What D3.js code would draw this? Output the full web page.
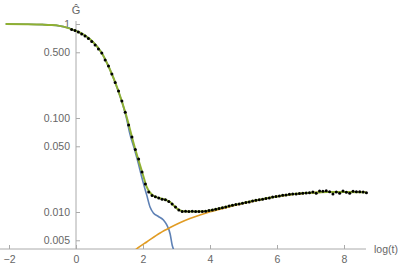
<!DOCTYPE html>
<html>
<head>
<meta charset="utf-8">
<script src="https://cdn.jsdelivr.net/npm/d3@7"></script>
<style>
  body { margin: 0; background: #fff; }
  svg { display: block; font-family: "Liberation Sans", Arial, sans-serif; }
</style>
</head>
<body>
<div class="svg-container"></div>
<script>
const widthSVG = 400;
const heightSVG = 268;

// datos medidos (log t, G)
const dotT = [-0.13, -0.03, 0.07, 0.17, 0.27, 0.37, 0.47, 0.57, 0.67, 0.77,
  0.87, 0.97, 1.07, 1.17, 1.27, 1.37, 1.47, 1.57, 1.67, 1.77,
  1.87, 1.97, 2.07, 2.17, 2.27, 2.37, 2.47, 2.57, 2.67, 2.77,
  2.87, 2.97, 3.07, 3.17, 3.27, 3.37, 3.47, 3.57, 3.67, 3.77,
  3.87, 3.97, 4.07, 4.17, 4.27, 4.37, 4.47, 4.57, 4.67, 4.77,
  4.87, 4.97, 5.07, 5.17, 5.27, 5.37, 5.47, 5.57, 5.67, 5.77,
  5.87, 5.97, 6.07, 6.17, 6.27, 6.37, 6.47, 6.57, 6.67, 6.77,
  6.87, 6.97, 7.07, 7.17, 7.27, 7.37, 7.47, 7.57, 7.67, 7.77,
  7.87, 7.97, 8.07, 8.17, 8.27, 8.37, 8.47, 8.57, 8.67];
const dotG = [0.874, 0.851, 0.822, 0.783, 0.745, 0.701, 0.652, 0.598, 0.542, 0.491,
  0.414, 0.357, 0.294, 0.239, 0.194, 0.152, 0.115, 0.0844, 0.0628, 0.0462,
  0.0366, 0.0267, 0.0199, 0.0163, 0.0150, 0.0145, 0.0141, 0.0137, 0.0135, 0.0129,
  0.0122, 0.0113, 0.0105, 0.0101, 0.0102, 0.0101, 0.0102, 0.0101, 0.0101, 0.0101,
  0.0102, 0.0104, 0.0105, 0.0107, 0.0109, 0.0111, 0.0113, 0.0116, 0.0118, 0.0120,
  0.0122, 0.0124, 0.0126, 0.0128, 0.0131, 0.0133, 0.0135, 0.0137, 0.0139, 0.0141,
  0.0144, 0.0146, 0.0148, 0.0151, 0.0152, 0.0154, 0.0155, 0.0155, 0.0157, 0.0158,
  0.0159, 0.0160, 0.0163, 0.0158, 0.0167, 0.0166, 0.0168, 0.0164, 0.0155, 0.0163,
  0.0158, 0.0167, 0.0162, 0.0158, 0.0166, 0.0164, 0.0164, 0.0163, 0.0160];

// ajuste total (verde)
const fitT = [-2.1, -1.5, -1.0, -0.75, -0.5, -0.25, 0, 0.25, 0.5, 0.75, 1.0, 1.25, 1.5, 1.75,
  2.0, 2.1, 2.2, 2.3, 2.5, 2.7, 2.8, 2.9, 3.0, 3.1, 3.3, 3.5, 3.8, 4.0, 4.5, 5.0, 5.5,
  6.0, 6.5, 7.0, 7.5, 8.0, 8.65];
const fitG = [1.0, 0.995, 0.985, 0.975, 0.955, 0.91, 0.845, 0.764, 0.648, 0.504, 0.336, 0.201, 0.1063, 0.0491,
  0.0248, 0.0189, 0.0163, 0.0150, 0.0140, 0.0134, 0.0128, 0.0119, 0.0110, 0.0104, 0.0101, 0.0101, 0.0102, 0.0104, 0.0114, 0.0125, 0.01355,
  0.0146, 0.0155, 0.0160, 0.0163, 0.0163, 0.0162];

// componente rapida (azul)
const fastT = [-2.1, -1.5, -1.0, -0.75, -0.5, -0.25, 0, 0.25, 0.5, 0.75, 1.0, 1.25, 1.5, 1.61,
  1.76, 1.86, 1.96, 2.01, 2.11, 2.21, 2.31, 2.46, 2.61, 2.71, 2.81, 2.87, 2.94, 3.0];
const fastG = [1.0, 0.995, 0.985, 0.975, 0.955, 0.91, 0.845, 0.764, 0.648, 0.504, 0.335, 0.199, 0.102, 0.0676,
  0.0446, 0.0330, 0.0237, 0.0203, 0.0152, 0.0113, 0.00976, 0.00896, 0.00822, 0.00728, 0.00583, 0.00446, 0.00375, 0.0031];

// componente lenta (naranja)
const slowT = [1.7, 1.79, 1.91, 2.11, 2.51, 2.81, 3.1, 3.4, 3.7, 4.0, 4.5, 5.0, 5.5, 6.0, 6.5, 7.0, 7.5, 8.0, 8.65];
const slowG = [0.0038, 0.00401, 0.00430, 0.00480, 0.00598, 0.00684, 0.00769, 0.00853, 0.00929,
  0.01005, 0.0112, 0.0124, 0.0135, 0.0146, 0.0155, 0.0160, 0.0163, 0.0163, 0.0162];

const xTicks = [-2, 0, 2, 4, 6, 8];
const xMinorTicks = [-1.5, -1, -0.5, 0.5, 1, 1.5, 2.5, 3, 3.5, 4.5, 5, 5.5, 6.5, 7, 7.5, 8.5];
const yTicks = [0.005, 0.01, 0.05, 0.1, 0.5, 1];
const yTickLabels = ['0.005', '0.010', '0.050', '0.100', '0.500', '1'];
const yMinorTicks = [0.006, 0.007, 0.008, 0.009, 0.02, 0.03, 0.04, 0.06, 0.07, 0.08, 0.09,
  0.2, 0.3, 0.4, 0.6, 0.7, 0.8, 0.9];

const axisColor = '#aaa';
const textColor = '#666';

const svg = d3.select('.svg-container')
  .append('svg')
  .attr('width', widthSVG)
  .attr('height', heightSVG);

const x = d3.scaleLinear().domain([0, 8]).range([76, 344]);
const y = d3.scaleLog().domain([0.01, 1]).range([212, 24]);
const axisY = 249;
const xEnd = 366;

// clip del area de graficado
svg.append('defs').append('clipPath')
  .attr('id', 'plot-clip')
  .append('rect')
  .attr('x', 0).attr('y', 0)
  .attr('width', widthSVG).attr('height', axisY);

const zip = (ts, gs) => ts.map((t, i) => ({ t: t, g: gs[i] }));

const line = d3.line()
  .x(d => x(d.t))
  .y(d => y(d.g))
  .curve(d3.curveMonotoneX);

// ejes
const xAxisG = svg.append('g').attr('transform', `translate(0,${axisY})`);
xAxisG.call(d3.axisBottom(x).tickValues(xMinorTicks).tickSize(-2.5).tickFormat(''));
xAxisG.call(d3.axisBottom(x).tickValues(xTicks).tickSize(-4).tickPadding(7)
  .tickFormat(d => d < 0 ? '\u22122' : d3.format('d')(d)));
xAxisG.selectAll('.domain').remove();
xAxisG.append('line')
  .attr('x1', 0).attr('x2', xEnd)
  .attr('stroke', axisColor);

const yAxisG = svg.append('g').attr('transform', `translate(${x(0)},0)`);
yAxisG.call(d3.axisLeft(y).tickValues(yMinorTicks.filter(v => y(v) < axisY)).tickSize(-2.5).tickFormat(''));
yAxisG.call(d3.axisLeft(y).tickValues(yTicks).tickSize(-4).tickPadding(6)
  .tickFormat((d, i) => yTickLabels[i]));
yAxisG.selectAll('.domain').remove();
yAxisG.append('line')
  .attr('y1', 21).attr('y2', axisY)
  .attr('stroke', axisColor);

svg.selectAll('.tick line').attr('stroke', axisColor);
svg.selectAll('.tick text')
  .attr('fill', textColor)
  .attr('font-size', '10.5px')
  .attr('font-family', '"Liberation Sans", Arial, sans-serif');

// etiquetas de ejes
svg.append('text')
  .attr('x', x(0))
  .attr('y', 14)
  .attr('text-anchor', 'middle')
  .attr('fill', textColor)
  .attr('font-size', '11px')
  .text('\u011C');

svg.append('text')
  .attr('x', 374)
  .attr('y', axisY + 4)
  .attr('fill', textColor)
  .attr('font-size', '10.5px')
  .text('log(t)');

// curvas
const plot = svg.append('g').attr('clip-path', 'url(#plot-clip)');

plot.append('path')
  .datum(zip(fastT, fastG))
  .attr('d', line)
  .attr('fill', 'none')
  .attr('stroke', '#5E81B5')
  .attr('stroke-width', 1.6);

plot.append('path')
  .datum(zip(slowT, slowG))
  .attr('d', line)
  .attr('fill', 'none')
  .attr('stroke', '#E19C24')
  .attr('stroke-width', 1.6);

plot.append('path')
  .datum(zip(fitT, fitG))
  .attr('d', line)
  .attr('fill', 'none')
  .attr('stroke', '#8FB032')
  .attr('stroke-width', 2);

plot.selectAll('circle.dato')
  .data(zip(dotT, dotG))
  .enter().append('circle')
  .attr('class', 'dato')
  .attr('cx', d => x(d.t))
  .attr('cy', d => y(d.g))
  .attr('r', 1.5)
  .attr('fill', 'black');
</script>
</body>
</html>
